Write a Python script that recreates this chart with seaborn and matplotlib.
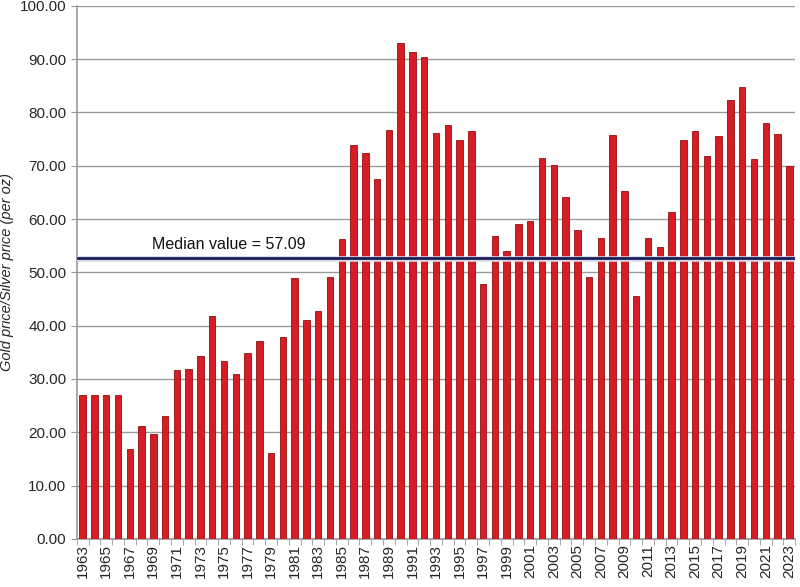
import numpy as np
import pandas as pd
import matplotlib
matplotlib.use("Agg")
import matplotlib.pyplot as plt
import seaborn as sns
from matplotlib.ticker import FormatStrFormatter, FixedLocator

# Gold/silver price ratio per year
years = list(range(1963, 2024))
ratio = [
    27.05, 27.05, 27.05, 27.05, 16.9, 21.15, 19.7, 23.0, 31.6, 31.8,
    34.4, 41.8, 33.4, 30.85, 34.8, 37.2, 16.2, 37.9, 48.9, 41.1,
    42.7, 49.05, 56.3, 73.9, 72.45, 67.6, 76.7, 93.0, 91.3, 90.5,
    76.1, 77.7, 74.9, 76.5, 47.9, 56.9, 54.0, 59.1, 59.6, 71.5,
    70.1, 64.1, 58.0, 49.1, 56.4, 75.7, 65.2, 45.5, 56.4, 54.7,
    61.4, 74.9, 76.6, 71.8, 75.5, 82.4, 84.8, 71.3, 78.1, 76.0,
    69.9,
]
median_line = 52.6
median_label = "Median value = 57.09"
y_label = "Gold price/Silver price (per oz)"

df = pd.DataFrame({"year": [str(y) for y in years], "ratio": ratio})

sns.set_style("white")
plt.rcParams["font.family"] = ["Liberation Sans", "DejaVu Sans"]

fig = plt.figure(figsize=(8, 5.87), dpi=100)
ax = fig.add_axes([0.096, 0.082, 0.898, 0.908])

sns.barplot(data=df, x="year", y="ratio", color="#d71c24", width=0.55,
            edgecolor="#8e1111", linewidth=0.6, saturation=1, ax=ax, zorder=3)

ax.set_ylim(0, 100)
ax.set_xlim(-0.5, len(years) - 0.5)
ax.set_yticks(np.arange(0, 101, 10))
ax.yaxis.set_major_formatter(FormatStrFormatter("%.2f"))
ax.grid(axis="y", color="#9a9a9a", linewidth=1.0, zorder=0)
ax.set_axisbelow(True)

# labels every other year, tick marks at every bar boundary
ax.set_xticks(range(0, len(years), 2))
ax.set_xticklabels([str(y) for y in years[::2]], rotation=90)
ax.xaxis.set_minor_locator(FixedLocator(np.arange(-0.5, len(years), 1)))
ax.tick_params(axis="x", which="major", length=0, labelsize=11, pad=4)
ax.tick_params(axis="x", which="minor", length=4, color="#9a9a9a", bottom=True)
ax.tick_params(axis="y", length=4, color="#9a9a9a", labelsize=11, left=True)

for side in ["top", "right"]:
    ax.spines[side].set_visible(False)
for side in ["left", "bottom"]:
    ax.spines[side].set_color("#9a9a9a")
    ax.spines[side].set_linewidth(1.2)

ax.axhline(median_line, color="#d8dbe6", linewidth=4, zorder=4)
ax.axhline(median_line + 0.15, color="#1b1f5c", linewidth=2, zorder=5)
ax.text(0.104, median_line + 1.2, median_label, transform=ax.get_yaxis_transform(),
        fontsize=11.5, color="#111111", va="bottom", ha="left", zorder=6)

ax.set_xlabel("")
ax.set_ylabel(y_label, fontsize=10.5, fontstyle="italic")
ax.yaxis.set_label_coords(-0.088, 0.5)

fig.savefig("out.png", dpi=100)
